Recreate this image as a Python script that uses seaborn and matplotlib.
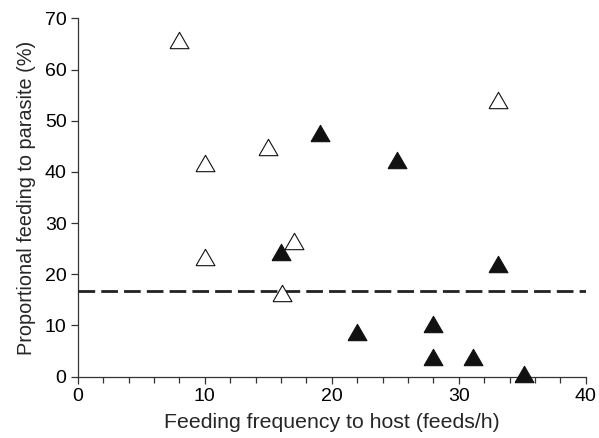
import matplotlib
matplotlib.use("Agg")
import matplotlib.pyplot as plt
import numpy as np
import pandas as pd
import seaborn as sns
from matplotlib.ticker import MultipleLocator

# Data
open_x = [8.0, 10.0, 10.0, 15.0, 16.1, 17.0, 33.1]
open_y = [65.7, 41.7, 23.4, 44.8, 16.3, 26.6, 54.0]

filled_x = [16.0, 19.1, 22.0, 25.1, 28.0, 28.0, 31.1, 33.1, 35.1]
filled_y = [24.4, 47.7, 8.8, 42.4, 10.2, 3.9, 3.9, 22.0, 0.5]

reference_level = 100 / 6  # dashed line, ~16.7 %

x_label = "Feeding frequency to host (feeds/h)"
y_label = "Proportional feeding to parasite (%)"

# Style
sns.set_style("ticks")
plt.rcParams["font.family"] = ["Liberation Sans", "DejaVu Sans"]

# Equilateral triangle marker
tri = [(-1.0, -0.866), (1.0, -0.866), (0.0, 0.866), (-1.0, -0.866)]

fig = plt.figure(figsize=(5.99, 4.38), dpi=100)
ax = fig.add_axes([0.1297, 0.140, 0.8483, 0.818])

ax.axhline(reference_level, color="#222222", lw=2.0, ls=(0, (6, 2.2)), zorder=1)

sns.scatterplot(x=open_x, y=open_y, ax=ax, marker=tri, s=185,
                facecolor="white", edgecolor="#111111", linewidth=0.8,
                zorder=3, clip_on=False)
sns.scatterplot(x=filled_x, y=filled_y, ax=ax, marker=tri, s=185,
                color="#111111", edgecolor="#111111", linewidth=0.8,
                zorder=3, clip_on=False)

ax.set_xlim(0, 40)
ax.set_ylim(0, 70)
ax.xaxis.set_major_locator(MultipleLocator(10))
ax.xaxis.set_minor_locator(MultipleLocator(2))
ax.yaxis.set_major_locator(MultipleLocator(10))

ax.tick_params(axis="both", which="major", labelsize=14, length=5, width=0.9,
               color="#333333", labelcolor="black", pad=3)
ax.tick_params(axis="x", which="minor", length=4, width=0.9, color="#333333")

ax.set_xlabel(x_label, fontsize=15.3, labelpad=6)
ax.set_ylabel(y_label, fontsize=14.3, labelpad=6)

for side in ["top", "right"]:
    ax.spines[side].set_visible(False)
for side in ["left", "bottom"]:
    ax.spines[side].set_linewidth(0.9)
    ax.spines[side].set_color("#333333")
    ax.spines[side].set_zorder(0)

fig.savefig("out.png", dpi=100)
